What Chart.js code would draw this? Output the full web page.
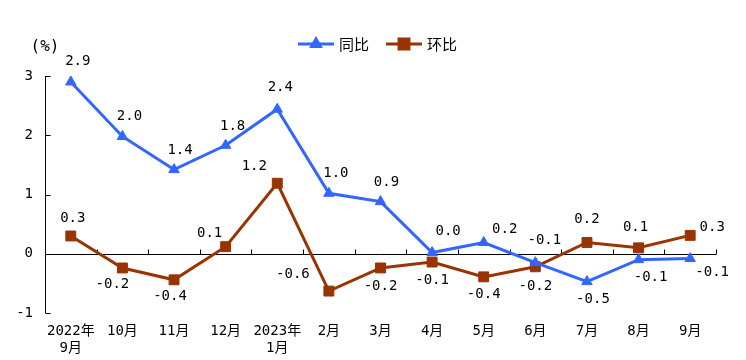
<!DOCTYPE html>
<html>
<head>
<meta charset="utf-8">
<script src="https://cdn.jsdelivr.net/npm/chart.js@4"></script>
<style>
  body { margin: 0; background: #fff; }
  #wrap { width: 746px; height: 360px; }
</style>
</head>
<body>
<div id="wrap"><canvas id="chart" width="746" height="360"></canvas></div>
<script>
// ─── DATOS ─────────────────────────────────────────────────────
const months = [['2022年', '9月'], '10月', '11月', '12月', ['2023年', '1月'], '2月', '3月', '4月', '5月', '6月', '7月', '8月', '9月'];
const tongbi = [2.9, 1.98, 1.42, 1.83, 2.44, 1.02, 0.88, 0.02, 0.19, -0.15, -0.47, -0.1, -0.08];
const tongbiText = ['2.9', '2.0', '1.4', '1.8', '2.4', '1.0', '0.9', '0.0', '0.2', '-0.1', '-0.5', '-0.1', '-0.1'];
const huanbi = [0.3, -0.24, -0.44, 0.12, 1.19, -0.63, -0.24, -0.14, -0.39, -0.22, 0.19, 0.1, 0.31];
const huanbiText = ['0.3', '-0.2', '-0.4', '0.1', '1.2', '-0.6', '-0.2', '-0.1', '-0.4', '-0.2', '0.2', '0.1', '0.3'];
const yTicks = [-1, 0, 1, 2, 3];

// posición de etiquetas (dx, dy respecto al punto)
const tongbiOff = [[7,-21],[7,-20],[6,-19],[7,-19],[3,-22],[7,-20],[6,-19],[16,-21],[21,-13],[9,-22],[6,18],[12,18],[22,14]];
const huanbiOff = [[2,-18],[-10,16],[-4,17],[-16,-13],[-23,-17],[-36,-17],[0,18],[0,18],[0,18],[0,20],[0,-23],[-3,-20],[22,-8]];

const BLUE = '#3366ff';
const BROWN = '#993300';
const MONO = '"DejaVu Sans Mono", "Noto Sans CJK SC", monospace';

const decor = {
    id: 'decor',
    beforeDatasetsDraw(chart) {
        const { ctx, chartArea: a, scales: { x, y } } = chart;
        ctx.save();
        ctx.strokeStyle = '#000';
        ctx.lineWidth = 1;
        const y0 = Math.round(y.getPixelForValue(0)) + 0.5;
        const lx = Math.round(a.left) + 0.5;
        // eje Y
        ctx.beginPath();
        ctx.moveTo(lx, Math.round(y.getPixelForValue(3)));
        ctx.lineTo(lx, Math.round(y.getPixelForValue(-1)));
        yTicks.forEach(v => {
            const py = Math.round(y.getPixelForValue(v)) + 0.5;
            ctx.moveTo(lx, py);
            ctx.lineTo(lx + 5, py);
        });
        // línea cero y marcas
        ctx.moveTo(lx, y0);
        ctx.lineTo(a.right, y0);
        const step = (a.right - a.left) / months.length;
        for (let k = 1; k <= months.length; k++) {
            const px = Math.round(a.left + step * k) + 0.5;
            ctx.moveTo(px, y0);
            ctx.lineTo(px, y0 - 5);
        }
        ctx.stroke();
        ctx.restore();
    },
    afterDatasetsDraw(chart) {
        const { ctx } = chart;
        ctx.save();
        ctx.font = '14px ' + MONO;
        ctx.fillStyle = '#000';
        ctx.textAlign = 'center';
        ctx.textBaseline = 'middle';
        [[0, tongbiText, tongbiOff], [1, huanbiText, huanbiOff]].forEach(([i, txt, off]) => {
            chart.getDatasetMeta(i).data.forEach((p, j) => {
                ctx.fillText(txt[j], p.x + off[j][0], p.y + off[j][1]);
            });
        });
        ctx.font = '16px ' + MONO;
        ctx.fillText('(%)', 45, 47);

        // leyenda
        const items = [[298, BLUE, 'triangle', '同比'], [386, BROWN, 'rect', '环比']];
        const ly = 44;
        items.forEach(([x0, col, shape, name]) => {
            ctx.strokeStyle = col;
            ctx.fillStyle = col;
            ctx.lineWidth = 3;
            ctx.beginPath();
            ctx.moveTo(x0, ly);
            ctx.lineTo(x0 + 36, ly);
            ctx.stroke();
            Chart.helpers.drawPoint(ctx, { pointStyle: shape, radius: shape === 'rect' ? 7 : 5, borderWidth: 1 }, x0 + 18, ly);
            ctx.fillStyle = '#000';
            ctx.font = '15px "Noto Sans CJK SC", sans-serif';
            ctx.textAlign = 'left';
            ctx.fillText(name, x0 + 41, ly);
        });
        ctx.restore();
    }
};

new Chart(document.getElementById('chart'), {
    type: 'line',
    data: {
        labels: months,
        datasets: [
            { label: '同比', data: tongbi, borderColor: BLUE, backgroundColor: BLUE, borderWidth: 3,
              pointStyle: 'triangle', pointRadius: 6, pointBorderWidth: 1, tension: 0 },
            { label: '环比', data: huanbi, borderColor: BROWN, backgroundColor: BROWN, borderWidth: 3,
              pointStyle: 'rect', pointRadius: 7, pointBorderWidth: 1, tension: 0 }
        ]
    },
    options: {
        responsive: false,
        animation: false,
        layout: { padding: { top: 76, right: 30, left: 0, bottom: 0 } },
        plugins: { legend: { display: false }, tooltip: { enabled: false } },
        scales: {
            x: {
                offset: true,
                grid: { display: false },
                border: { display: false },
                ticks: { color: '#000', font: { size: 14, family: MONO }, padding: 2, maxRotation: 0, autoSkip: false },
                afterFit: s => { s.height = 47; }
            },
            y: {
                min: -1, max: 3,
                grid: { display: false },
                border: { display: false },
                ticks: { stepSize: 1, color: '#000', font: { size: 14, family: MONO }, padding: 4 },
                afterFit: s => { s.width = 45; }
            }
        }
    },
    plugins: [decor]
});
</script>
</body>
</html>
